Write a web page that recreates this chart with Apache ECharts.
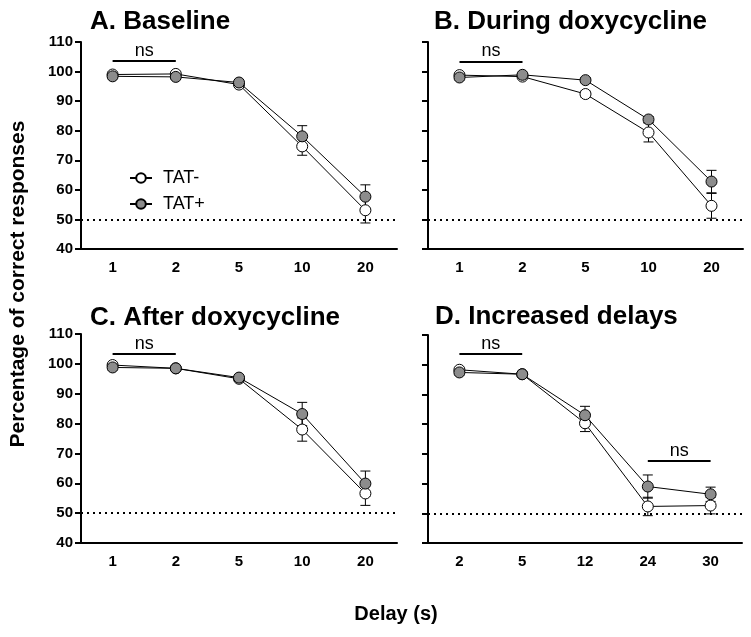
<!DOCTYPE html>
<html>
<head>
<meta charset="utf-8">
<script src="https://cdn.jsdelivr.net/npm/echarts@6/dist/echarts.min.js"></script>
<style>html,body{margin:0;padding:0;background:#fff}#c{width:751px;height:637px}</style>
</head>
<body>
<div id="c"></div>
<script>
// ---- data ----
var catsABC = ['1', '2', '5', '10', '20'];
var catsD = ['2', '5', '12', '24', '30'];
var yTicks = [40, 50, 60, 70, 80, 90, 100, 110];

var tatMinusA = [99.0, 99.2, 95.6, 74.7, 53.1];
var tatMinusAErr = [0.8, 0.6, 0.8, 3.0, 4.3];
var tatPlusA = [98.4, 98.2, 96.3, 78.1, 57.7];
var tatPlusAErr = [0.8, 0.8, 0.8, 3.6, 4.0];

var tatMinusB = [98.8, 98.3, 92.4, 79.4, 54.6];
var tatMinusBErr = [0.6, 0.6, 1.0, 3.2, 4.2];
var tatPlusB = [98.0, 98.9, 97.1, 83.8, 62.8];
var tatPlusBErr = [0.8, 0.5, 0.8, 1.0, 3.8];

var tatMinusC = [99.6, 98.5, 95.0, 78.0, 56.6];
var tatMinusCErr = [0.4, 0.6, 0.8, 3.9, 4.0];
var tatPlusC = [98.8, 98.5, 95.4, 83.2, 59.9];
var tatPlusCErr = [0.8, 0.6, 0.8, 3.9, 4.2];

var tatMinusD = [98.3, 96.8, 80.3, 52.3, 52.6];
var tatMinusDErr = [0.6, 0.6, 2.8, 3.1, 2.8];
var tatPlusD = [97.4, 96.8, 83.0, 59.0, 56.4];
var tatPlusDErr = [0.8, 0.6, 3.0, 3.9, 2.4];

var chanceLevel = 50;
// ns bars: [fromIndex, toIndex, yValue]
var nsA = [[0, 1, 103.6]];
var nsB = [[0, 1, 103.4]];
var nsC = [[0, 1, 103.4]];
var nsD = [[0, 1, 103.6], [3, 4, 67.6]];

var panelTitles = ['A. Baseline', 'B. During doxycycline', 'C. After doxycycline', 'D. Increased delays'];
var yAxisTitle = 'Percentage of correct responses';
var xAxisTitle = 'Delay (s)';
var seriesNames = ['TAT-', 'TAT+'];

// ---- build ----
var FONT = '"Liberation Sans", Arial, Helvetica, sans-serif';
var grids = [
  {left: 81, top: 42, width: 316, height: 207},
  {left: 428, top: 42, width: 315, height: 207},
  {left: 81, top: 334, width: 316, height: 209},
  {left: 428, top: 335, width: 314, height: 208}
];
var titlePos = [
  {left: 85, top: 4},
  {left: 429, top: 4},
  {left: 85, top: 300},
  {left: 430, top: 299}
];
var panels = [
  {cats: catsABC, m: tatMinusA, me: tatMinusAErr, p: tatPlusA, pe: tatPlusAErr, ns: nsA},
  {cats: catsABC, m: tatMinusB, me: tatMinusBErr, p: tatPlusB, pe: tatPlusBErr, ns: nsB},
  {cats: catsABC, m: tatMinusC, me: tatMinusCErr, p: tatPlusC, pe: tatPlusCErr, ns: nsC},
  {cats: catsD, m: tatMinusD, me: tatMinusDErr, p: tatPlusD, pe: tatPlusDErr, ns: nsD}
];

function errRender(params, api) {
  var x = api.value(0), v = api.value(1), e = api.value(2);
  var hi = api.coord([x, v + e]);
  var lo = api.coord([x, v - e]);
  var w = 5;
  var st = {stroke: '#000', lineWidth: 1};
  return {type: 'group', children: [
    {type: 'line', shape: {x1: hi[0], y1: hi[1], x2: lo[0], y2: lo[1]}, style: st},
    {type: 'line', shape: {x1: hi[0] - w, y1: hi[1], x2: hi[0] + w, y2: hi[1]}, style: st},
    {type: 'line', shape: {x1: lo[0] - w, y1: lo[1], x2: lo[0] + w, y2: lo[1]}, style: st}
  ]};
}

var xAxes = [], yAxes = [], series = [], titles = [];
panels.forEach(function (pn, i) {
  xAxes.push({
    type: 'category', gridIndex: i, data: pn.cats, boundaryGap: true,
    axisLine: {lineStyle: {color: '#000', width: 2}},
    axisTick: {alignWithLabel: true, length: 5, lineStyle: {color: '#000', width: 2}},
    axisLabel: {color: '#000', fontFamily: FONT, fontWeight: 'bold', fontSize: 15, margin: 11},
    splitLine: {show: false}
  });
  yAxes.push({
    type: 'value', gridIndex: i, min: yTicks[0], max: yTicks[yTicks.length - 1], interval: 10,
    axisLine: {show: true, lineStyle: {color: '#000', width: 2}},
    axisTick: {show: true, length: 6, lineStyle: {color: '#000', width: 2}},
    axisLabel: {show: (i % 2 === 0), color: '#000', fontFamily: FONT, fontWeight: 'bold', fontSize: 15, margin: 8},
    splitLine: {show: false}
  });
  titles.push({
    text: panelTitles[i], left: titlePos[i].left, top: titlePos[i].top,
    textStyle: {fontFamily: FONT, fontWeight: 'bold', fontSize: 26, color: '#000'}
  });
  var nsLines = pn.ns.map(function (b) {
    return [
      {coord: [b[0], b[2]], label: {show: true, formatter: 'ns', position: 'middle', distance: 1,
        color: '#000', fontFamily: FONT, fontSize: 18}},
      {coord: [b[1], b[2]]}
    ];
  });
  // error bars
  series.push({
    type: 'custom', xAxisIndex: i, yAxisIndex: i, z: 1, silent: true,
    renderItem: errRender,
    data: pn.m.map(function (v, k) { return [k, v, pn.me[k]]; }),
    encode: {x: 0, y: 1}
  });
  series.push({
    type: 'custom', xAxisIndex: i, yAxisIndex: i, z: 1, silent: true,
    renderItem: errRender,
    data: pn.p.map(function (v, k) { return [k, v, pn.pe[k]]; }),
    encode: {x: 0, y: 1}
  });
  series.push({
    name: seriesNames[0], type: 'line', xAxisIndex: i, yAxisIndex: i, z: 2,
    data: pn.m, symbol: 'circle', symbolSize: 11,
    lineStyle: {color: '#000', width: 1},
    itemStyle: {color: '#fff', borderColor: '#000', borderWidth: 1},
    emphasis: {disabled: true},
    markLine: {
      silent: true, symbol: 'none', animation: false,
      lineStyle: {color: '#000', width: 2, type: [2, 4]},
      label: {show: false},
      data: [{yAxis: chanceLevel}]
    }
  });
  series.push({
    name: seriesNames[1], type: 'line', xAxisIndex: i, yAxisIndex: i, z: 3,
    data: pn.p, symbol: 'circle', symbolSize: 11,
    lineStyle: {color: '#000', width: 1},
    itemStyle: {color: '#8c8c8c', borderColor: '#000', borderWidth: 1},
    emphasis: {disabled: true},
    markLine: {
      silent: true, symbol: 'none', animation: false,
      lineStyle: {color: '#000', width: 2, type: 'solid'},
      data: nsLines
    }
  });
});

var chart = echarts.init(document.getElementById('c'), null, {renderer: 'canvas'});
chart.setOption({
  animation: false,
  backgroundColor: '#fff',
  title: titles,
  grid: grids,
  xAxis: xAxes,
  yAxis: yAxes,
  legend: {
    data: seriesNames, orient: 'vertical', left: 124, top: 163,
    itemWidth: 22, itemHeight: 12, itemGap: 6,
    textStyle: {fontFamily: FONT, fontSize: 18, color: '#000', lineHeight: 20, padding: [0, 0, 0, 6]},
    selectedMode: false
  },
  graphic: [
    {type: 'text', x: 18, y: 284, rotation: Math.PI / 2,
      style: {text: yAxisTitle, textAlign: 'center', textVerticalAlign: 'middle',
        font: 'bold 21px ' + FONT, fill: '#000'}},
    {type: 'text', x: 396, y: 614,
      style: {text: xAxisTitle, textAlign: 'center', textVerticalAlign: 'middle',
        font: 'bold 20px ' + FONT, fill: '#000'}}
  ],
  series: series
});
</script>
</body>
</html>
